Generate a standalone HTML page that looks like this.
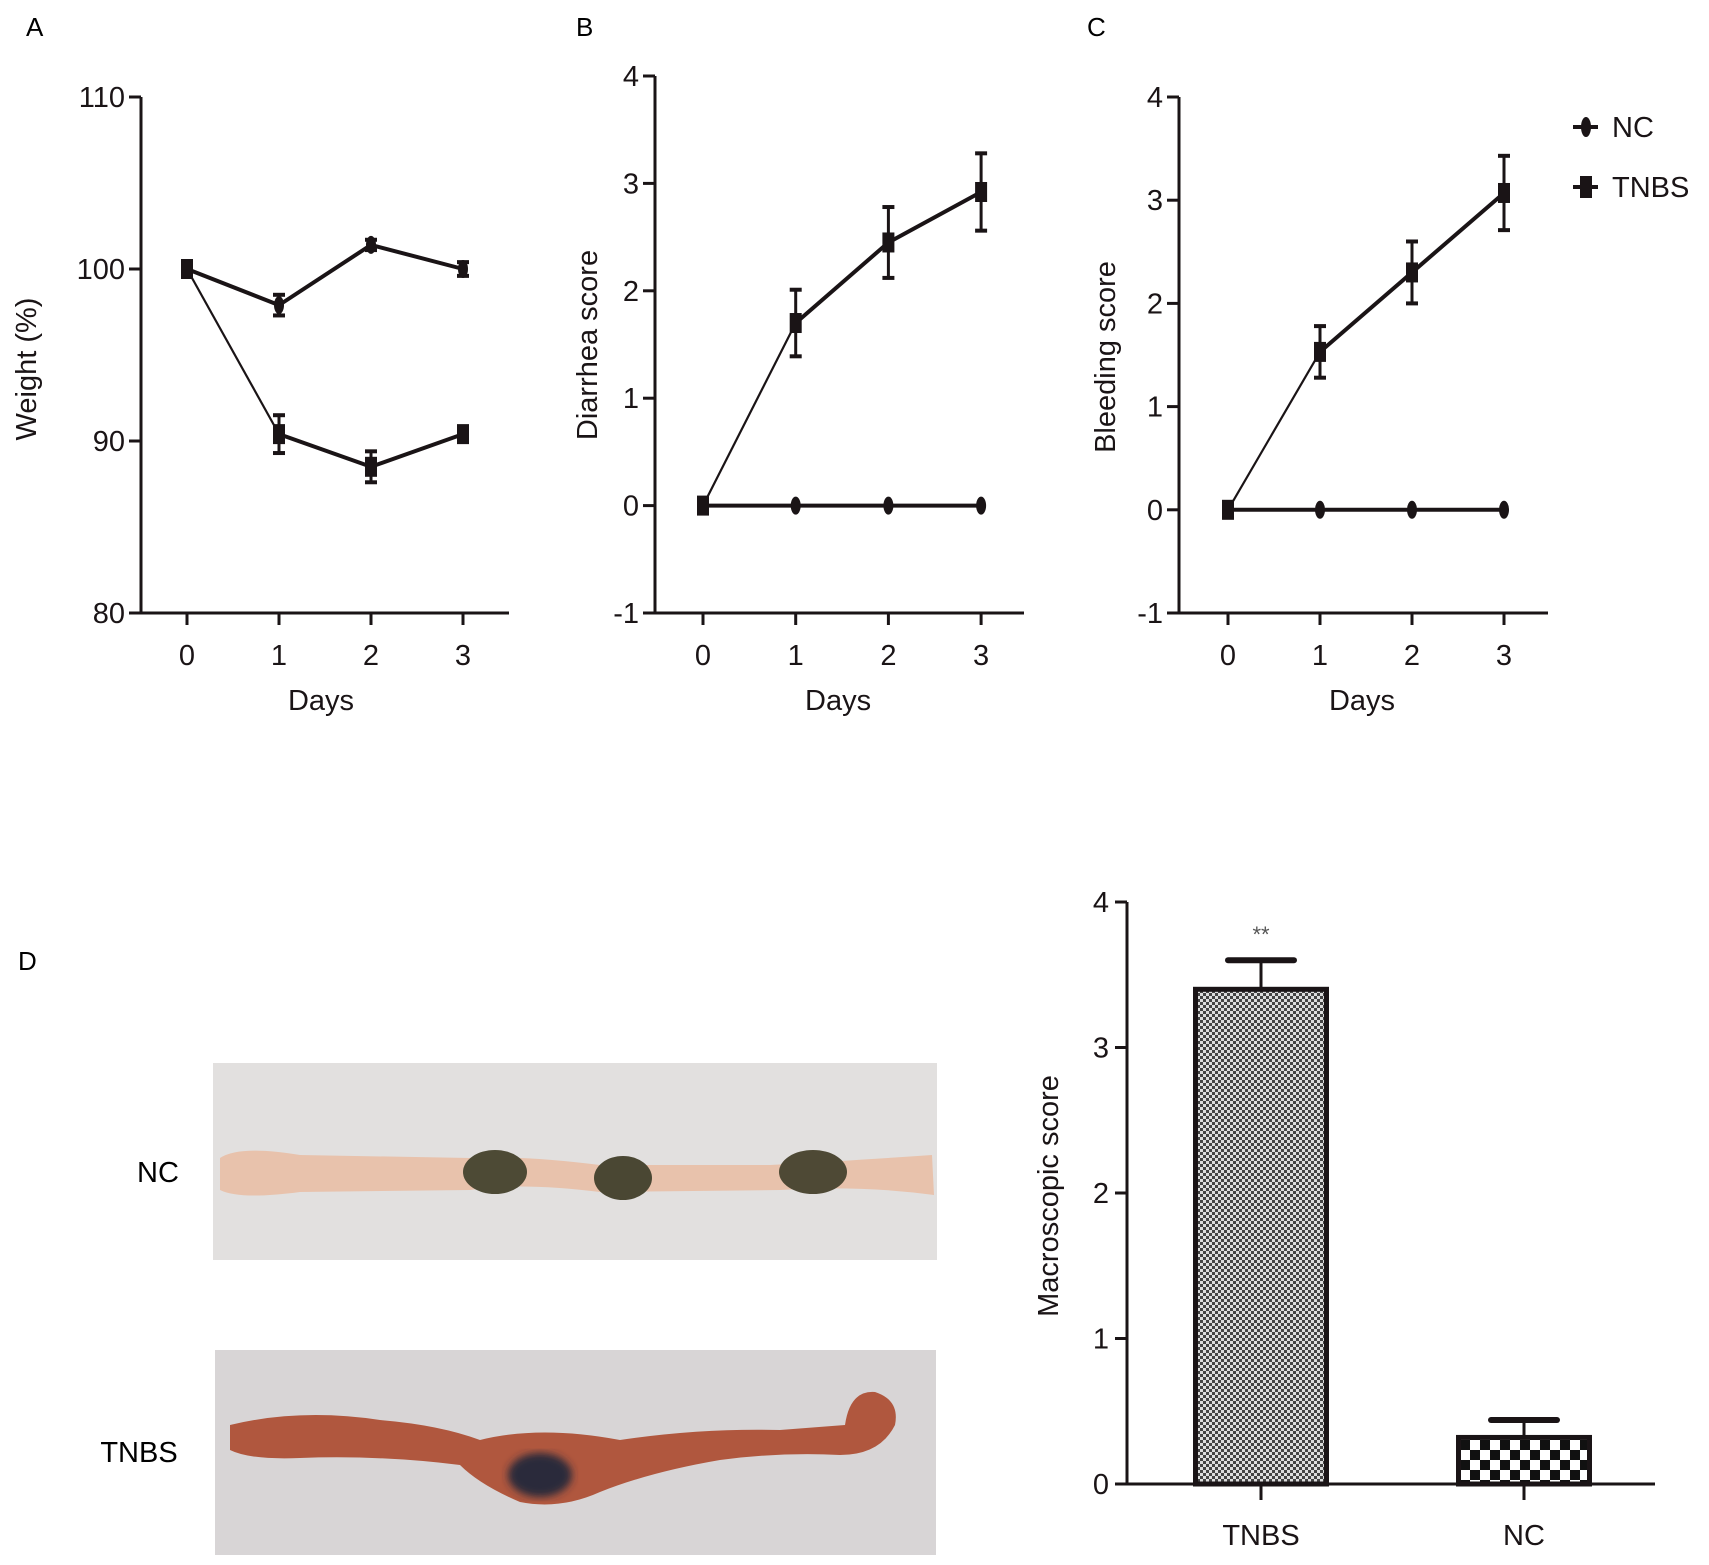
<!DOCTYPE html>
<html><head><meta charset="utf-8"><style>
html,body{margin:0;padding:0;background:#fff;}
svg{display:block;font-family:"Liberation Sans",Arial,sans-serif;}
</style></head><body>
<svg id="fig" width="1709" height="1565" viewBox="0 0 1709 1565">
<defs>
<pattern id="fine" width="6" height="6" patternUnits="userSpaceOnUse"><rect width="6" height="6" fill="#ddd"/><rect width="3" height="3" fill="#444"/><rect x="3" y="3" width="3" height="3" fill="#444"/></pattern>
<pattern id="coarse" width="20" height="20" patternUnits="userSpaceOnUse"><rect width="20" height="20" fill="#fff"/><rect width="10" height="10" fill="#111"/><rect x="10" y="10" width="10" height="10" fill="#111"/></pattern>
<filter id="blur"><feGaussianBlur stdDeviation="4"/></filter>
</defs>
<g id="panels"></g>
<text x="26" y="36" font-size="26">A</text>
<text x="576" y="36" font-size="26">B</text>
<text x="1087" y="36" font-size="26">C</text>
<text x="18" y="970" font-size="26">D</text>
<g>
 <g>
  <line x1="1573" y1="127" x2="1598" y2="127" stroke="#1a1416" stroke-width="4"/>
  <ellipse cx="1586" cy="127" rx="5" ry="10" fill="#1a1416"/>
  <text x="1612" y="137" font-size="29" fill="#1a1416">NC</text>
 </g>
 <g>
  <line x1="1573" y1="187" x2="1598" y2="187" stroke="#1a1416" stroke-width="4"/>
  <rect x="1580" y="176" width="12" height="22" fill="#1a1416"/>
  <text x="1612" y="197" font-size="29" fill="#1a1416">TNBS</text>
 </g>
</g>
<g>
 <rect x="213" y="1063" width="724" height="197" fill="#e2e0df"/>
 <path d="M220 1158 Q240 1145 300 1155 L470 1158 Q520 1155 600 1165 L770 1165 Q860 1160 932 1155 L934 1195 Q860 1185 780 1190 L600 1192 Q520 1182 470 1190 L300 1192 Q240 1200 220 1190 Z" fill="#e8c2ac"/>
 <ellipse cx="495" cy="1172" rx="32" ry="22" fill="#4d4a35"/>
 <ellipse cx="623" cy="1178" rx="29" ry="22" fill="#4a4733"/>
 <ellipse cx="813" cy="1172" rx="34" ry="22" fill="#4e4935"/>
 <text x="158" y="1182" font-size="29" text-anchor="middle">NC</text>
</g>
<g>
 <rect x="215" y="1350" width="721" height="205" fill="#d8d5d6"/>
 <path d="M230 1425 Q300 1408 380 1420 Q440 1425 480 1440 Q540 1425 620 1440 Q700 1428 780 1430 L845 1425 Q850 1390 875 1392 Q900 1400 895 1425 Q880 1455 840 1455 Q780 1452 720 1460 Q650 1472 600 1492 Q560 1510 520 1502 Q480 1485 460 1465 Q380 1455 300 1458 Q250 1460 230 1450 Z" fill="#b0573e"/>
 <ellipse cx="540" cy="1475" rx="32" ry="22" fill="#2a2a3a" filter="url(#blur)"/>
 <text x="139" y="1462" font-size="29" text-anchor="middle">TNBS</text>
</g>
<g id="bars"></g>
</svg>
<script>
const NS="http://www.w3.org/2000/svg";
const days=[0,1,2,3];
const weightNC=[100,97.9,101.4,100];
const weightNCerr=[0.4,0.6,0.3,0.4];
const weightTNBS=[100,90.4,88.5,90.4];
const weightTNBSerr=[0.3,1.1,0.9,0.4];
const diarNC=[0,0,0,0];
const diarNCerr=[0,0,0,0];
const diarTNBS=[0,1.7,2.45,2.92];
const diarTNBSerr=[0.05,0.31,0.33,0.36];
const bleedNC=[0,0,0,0];
const bleedNCerr=[0,0,0,0];
const bleedTNBS=[0,1.53,2.3,3.07];
const bleedTNBSerr=[0.05,0.25,0.3,0.36];
const ticksA=[80,90,100,110];
const ticksBC=[-1,0,1,2,3,4];
const barCats=["TNBS","NC"];
const barVals=[3.4,0.32];
const barErr=[0.2,0.12];
const barTicks=[0,1,2,3,4];

function el(tag,attrs,parent){const e=document.createElementNS(NS,tag);for(const k in attrs)e.setAttribute(k,attrs[k]);parent.appendChild(e);return e;}
const C="#1a1416";
const panels=document.getElementById('panels');

function linePanel(cfg){
  const g=el('g',{},panels);
  
  
  const ymin=cfg.ticks[0],ymax=cfg.ticks[cfg.ticks.length-1];
  const Y=v=>cfg.yb-(v-ymin)/(ymax-ymin)*(cfg.yb-cfg.yt);
  const X=d=>cfg.x0+d*cfg.dx;
  el('line',{x1:cfg.ax,y1:cfg.yt,x2:cfg.ax,y2:cfg.yb,stroke:C,'stroke-width':3},g);
  el('line',{x1:cfg.ax-12,y1:cfg.yb,x2:cfg.xr,y2:cfg.yb,stroke:C,'stroke-width':3},g);
  cfg.ticks.forEach(t=>{
    el('line',{x1:cfg.ax-12,y1:Y(t),x2:cfg.ax,y2:Y(t),stroke:C,'stroke-width':3},g);
    const tx=el('text',{x:cfg.ax-16,y:Y(t)+10,'font-size':29,'text-anchor':'end',fill:C},g);
    tx.textContent=t;
    
    
  });
  days.forEach(d=>{
    el('line',{x1:X(d),y1:cfg.yb,x2:X(d),y2:cfg.yb+12,stroke:C,'stroke-width':3},g);
    const tx=el('text',{x:X(d),y:cfg.yb+52,'font-size':29,'text-anchor':'middle',fill:C},g);
    tx.textContent=d;
    
    
  });
  const xt=el('text',{x:(X(0)+X(3))/2-4,y:cfg.yb+97,'font-size':29,'text-anchor':'middle',fill:C},g);
  xt.textContent='Days';
  
  
  const yt=el('text',{x:0,y:0,'font-size':29,'text-anchor':'middle',fill:C,transform:`translate(${cfg.tx},${cfg.ty}) rotate(-90)`},g);
  yt.textContent=cfg.title;
  
  
  [[cfg.tn,cfg.tnErr,'tnbs'],[cfg.nc,cfg.ncErr,'nc']].forEach(([vals,err,nm])=>{
    for(let i=0;i<vals.length-1;i++){
      const w=(nm==='tnbs'&&i===0)?2.2:4;
      const s=el('line',{x1:X(days[i]),y1:Y(vals[i]),x2:X(days[i+1]),y2:Y(vals[i+1]),stroke:C,'stroke-width':w},g);
      
      
    }
    vals.forEach((v,i)=>{
      const x=X(days[i]);
      if(err[i]>0){
        el('line',{x1:x,y1:Y(v+err[i]),x2:x,y2:Y(v-err[i]),stroke:C,'stroke-width':3},g);
        el('line',{x1:x-6,y1:Y(v+err[i]),x2:x+6,y2:Y(v+err[i]),stroke:C,'stroke-width':4},g);
        el('line',{x1:x-6,y1:Y(v-err[i]),x2:x+6,y2:Y(v-err[i]),stroke:C,'stroke-width':4},g);
      }
      let m;
      if(nm==='tnbs') m=el('rect',{x:x-6,y:Y(v)-10,width:12,height:20,fill:C},g);
      else m=el('ellipse',{cx:x,cy:Y(v),rx:5,ry:9,fill:C},g);
      
      
    });
  });
}
linePanel({name:'chart-weight',ticks:ticksA,yt:97,yb:613,ax:141,xr:509,x0:187,dx:92,tx:36,ty:369,title:'Weight (%)',nc:weightNC,ncErr:weightNCerr,tn:weightTNBS,tnErr:weightTNBSerr});
linePanel({name:'chart-diarrhea',ticks:ticksBC,yt:76,yb:613,ax:655,xr:1024,x0:703,dx:92.7,tx:597,ty:345,title:'Diarrhea score',nc:diarNC,ncErr:diarNCerr,tn:diarTNBS,tnErr:diarTNBSerr});
linePanel({name:'chart-bleeding',ticks:ticksBC,yt:97,yb:613,ax:1179,xr:1548,x0:1228,dx:92,tx:1115,ty:357,title:'Bleeding score',nc:bleedNC,ncErr:bleedNCerr,tn:bleedTNBS,tnErr:bleedTNBSerr});

(function(){
  const g=document.getElementById('bars');
  
  
  const ax=1127,yb=1484,yt=902,xr=1655;
  const Y=v=>yb-v/4*(yb-yt);
  const centers=[1261,1524];
  const bw=131;
  barCats.forEach((c,i)=>{
    const x=centers[i],v=barVals[i];
    const b=el('rect',{x:x-bw/2,y:Y(v),width:bw,height:yb-Y(v),fill:i===0?'url(#fine)':'url(#coarse)',stroke:C,'stroke-width':5},g);
    
    
    el('line',{x1:x,y1:Y(v),x2:x,y2:Y(v+barErr[i]),stroke:C,'stroke-width':3},g);
    el('line',{x1:x-33,y1:Y(v+barErr[i]),x2:x+33,y2:Y(v+barErr[i]),stroke:C,'stroke-width':6,'stroke-linecap':'round'},g);
    el('line',{x1:x,y1:yb,x2:x,y2:yb+16,stroke:C,'stroke-width':3},g);
    const t=el('text',{x:x,y:yb+61,'font-size':29,'text-anchor':'middle',fill:C},g);
    t.textContent=c;
    
    
  });
  el('line',{x1:ax,y1:yt,x2:ax,y2:yb,stroke:C,'stroke-width':3},g);
  el('line',{x1:ax-12,y1:yb,x2:xr,y2:yb,stroke:C,'stroke-width':3},g);
  barTicks.forEach(t=>{
    el('line',{x1:ax-12,y1:Y(t),x2:ax,y2:Y(t),stroke:C,'stroke-width':3},g);
    const tx=el('text',{x:ax-18,y:Y(t)+10,'font-size':29,'text-anchor':'end',fill:C},g);
    tx.textContent=t;
    
    
  });
  const yt2=el('text',{x:0,y:0,'font-size':29,'text-anchor':'middle',fill:C,transform:'translate(1058,1196) rotate(-90)'},g);
  yt2.textContent='Macroscopic score';
  
  
  const s=el('text',{x:centers[0],y:942,'font-size':22,'text-anchor':'middle',fill:'#555'},g);
  s.textContent='**';
  
  
})();
</script>
</body></html>
